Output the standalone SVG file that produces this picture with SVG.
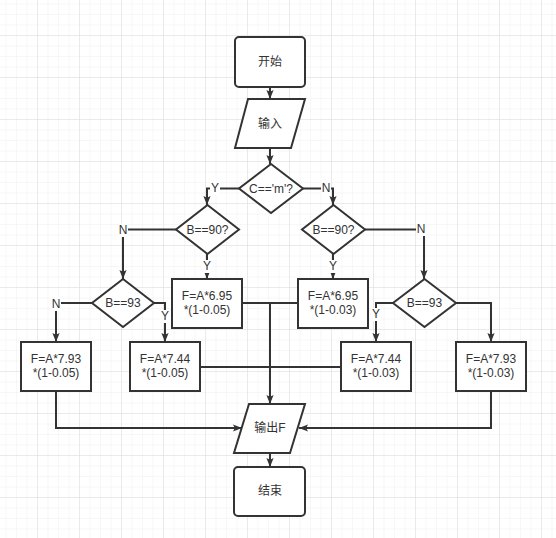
<svg xmlns="http://www.w3.org/2000/svg" width="556" height="538" viewBox="0 0 556 538">
<defs>
<pattern id="minor" width="10.5" height="10.5" patternUnits="userSpaceOnUse" x="-4" y="-6">
<path d="M10.5 0V10.5H0" fill="none" stroke="#efefef" stroke-width="1"/>
</pattern>
<pattern id="major" width="42" height="42" patternUnits="userSpaceOnUse" x="-4" y="-6">
<path d="M42 0V42H0" fill="none" stroke="#dcdcdc" stroke-width="1"/>
</pattern>
<marker id="arr" viewBox="0 0 10 10" refX="10" refY="5" markerWidth="9" markerHeight="9" markerUnits="userSpaceOnUse" orient="auto">
<path d="M0 1L10 5L0 9L2 5Z" fill="#333"/>
</marker>
</defs>
<style>
.s{fill:#fff;stroke:#333;stroke-width:2}
.c{fill:none;stroke:#333;stroke-width:2}
.a{marker-end:url(#arr)}
text{font-family:"Liberation Sans","Noto Sans CJK SC",sans-serif;font-size:12px;fill:#333;text-anchor:middle;dominant-baseline:central}
.lb{fill:#fff}
</style>
<rect width="556" height="538" fill="#fff"/>
<rect width="556" height="538" fill="url(#minor)"/>
<rect width="556" height="538" fill="url(#major)"/>
<g id="connectors">
<path class="c a" d="M270 87V99"/>
<path class="c a" d="M270 148V164"/>
<path class="c a" d="M239 188.5H207V205"/>
<path class="c a" d="M303 188.5H333V205"/>
<path class="c a" d="M176 229.5H123V279"/>
<path class="c a" d="M365 229.5H424V279"/>
<path class="c a" d="M207 254V279"/>
<path class="c a" d="M333 254V279"/>
<path class="c a" d="M92 303H56V342"/>
<path class="c a" d="M154 303H165V342"/>
<path class="c a" d="M393 303H376V342"/>
<path class="c a" d="M456 303H491V342"/>
<path class="c" d="M242 303H298"/>
<path class="c" d="M200 367H341"/>
<path class="c a" d="M270 303V404"/>
<path class="c a" d="M56 391V428H242"/>
<path class="c a" d="M491 391V428H299"/>
<path class="c a" d="M270 453V467"/>
<rect class="lb" x="210" y="181" width="10" height="14"/>
<text x="215" y="188">Y</text>
<rect class="lb" x="321" y="181" width="10" height="14"/>
<text x="326" y="188">N</text>
<rect class="lb" x="118" y="223" width="10" height="14"/>
<text x="123" y="230">N</text>
<rect class="lb" x="416" y="222" width="10" height="14"/>
<text x="421" y="229">N</text>
<rect class="lb" x="202" y="260" width="10" height="13"/>
<text x="207" y="266">Y</text>
<rect class="lb" x="328" y="260" width="10" height="13"/>
<text x="333" y="266">Y</text>
<rect class="lb" x="51" y="297" width="10" height="14"/>
<text x="56" y="304">N</text>
<rect class="lb" x="160" y="310" width="10" height="13"/>
<text x="165" y="316">Y</text>
<rect class="lb" x="371" y="308" width="10" height="13"/>
<text x="376" y="314">Y</text>
</g>
<g id="start"><rect class="s" x="235" y="37" width="70" height="50" rx="4"/><text x="270" y="62">开始</text></g>
<g id="input"><path class="s" d="M248 99H305L291 148H235Z"/><text x="270" y="124">输入</text></g>
<g id="cond-c"><path class="s" d="M271 164L303 188.5L271 213L239 188.5Z"/><text x="271" y="188.5">C=='m'?</text></g>
<g id="cond-b90-left"><path class="s" d="M207.5 205L239 229.5L207.5 254L176 229.5Z"/><text x="207.5" y="229.5">B==90?</text></g>
<g id="cond-b90-right"><path class="s" d="M333.5 205L365 229.5L333.5 254L302 229.5Z"/><text x="333.5" y="229.5">B==90?</text></g>
<g id="cond-b93-left"><path class="s" d="M123 279L154 303L123 327L92 303Z"/><text x="123" y="303">B==93</text></g>
<g id="cond-b93-right"><path class="s" d="M424.5 279L456 303L424.5 327L393 303Z"/><text x="424.5" y="303">B==93</text></g>
<g id="f695-05"><rect class="s" x="172" y="279" width="70" height="49"/><text x="207" y="296">F=A*6.95</text><text x="207" y="310">*(1-0.05)</text></g>
<g id="f695-03"><rect class="s" x="298" y="279" width="70" height="49"/><text x="333" y="296">F=A*6.95</text><text x="333" y="310">*(1-0.03)</text></g>
<g id="f793-05"><rect class="s" x="21" y="342" width="70" height="49"/><text x="56" y="359">F=A*7.93</text><text x="56" y="373">*(1-0.05)</text></g>
<g id="f744-05"><rect class="s" x="130" y="342" width="70" height="49"/><text x="165" y="359">F=A*7.44</text><text x="165" y="373">*(1-0.05)</text></g>
<g id="f744-03"><rect class="s" x="341" y="342" width="70" height="49"/><text x="376" y="359">F=A*7.44</text><text x="376" y="373">*(1-0.03)</text></g>
<g id="f793-03"><rect class="s" x="456" y="342" width="70" height="49"/><text x="491" y="359">F=A*7.93</text><text x="491" y="373">*(1-0.03)</text></g>
<g id="output"><path class="s" d="M249 404H305L290 453H234Z"/><text x="270" y="428">输出F</text></g>
<g id="end"><rect class="s" x="234" y="467" width="71" height="49" rx="4"/><text x="270" y="491">结束</text></g>
</svg>
